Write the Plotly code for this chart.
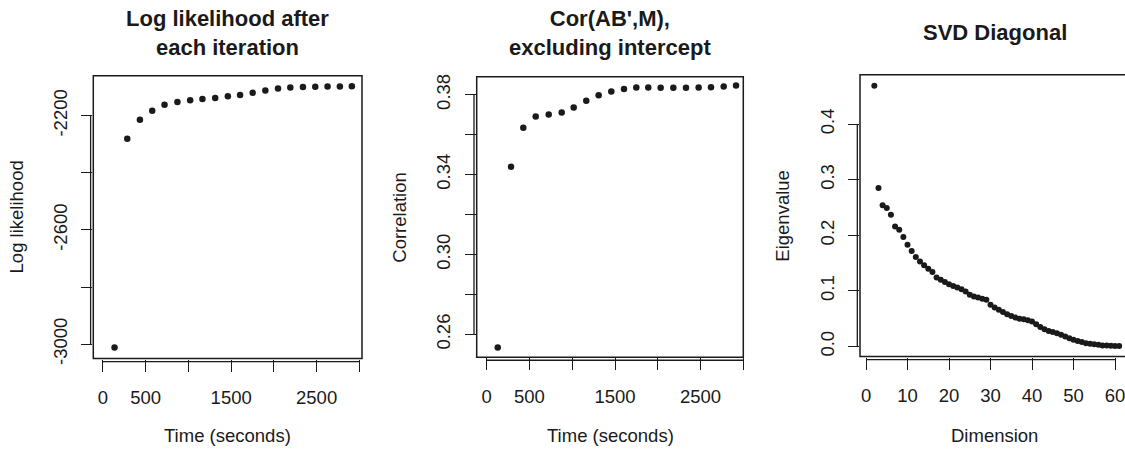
import plotly.graph_objects as go

W, H = 1125, 453

# ---------------- data ----------------
time_ll = [135, 284, 432, 576, 720, 871, 1020, 1164, 1313, 1461, 1604, 1752,
           1900, 2048, 2192, 2340, 2484, 2628, 2772, 2912]
loglik = [-3012, -2281, -2214, -2183, -2162, -2152, -2146, -2142, -2138, -2132,
          -2128, -2120, -2112, -2105, -2101, -2100, -2099, -2098, -2098, -2097]

time_cor = [129, 284, 428, 573, 725, 877, 1017, 1164, 1309, 1457, 1605, 1749,
            1889, 2034, 2182, 2330, 2478, 2622, 2771, 2915]
correlation = [0.2534, 0.3439, 0.3634, 0.3690, 0.3700, 0.3710, 0.3736, 0.3769,
               0.3797, 0.3816, 0.3828, 0.3836, 0.3836, 0.3834, 0.3834, 0.3834,
               0.3836, 0.3837, 0.3841, 0.3846]

dimension = list(range(2, 62))
eigenvalue = [0.469, 0.285, 0.254, 0.249, 0.237, 0.216, 0.210, 0.197, 0.183, 0.172,
              0.161, 0.153, 0.146, 0.140, 0.134, 0.124, 0.120, 0.116, 0.112, 0.109,
              0.106, 0.103, 0.099, 0.093, 0.090, 0.088, 0.086, 0.084, 0.075, 0.070,
              0.066, 0.062, 0.058, 0.055, 0.052, 0.050, 0.049, 0.047, 0.045, 0.040,
              0.035, 0.031, 0.028, 0.026, 0.024, 0.021, 0.018, 0.015, 0.012, 0.010,
              0.008, 0.006, 0.005, 0.004, 0.003, 0.002, 0.002, 0.0015, 0.001, 0.001]

time_ticks = [0, 500, 1000, 1500, 2000, 2500, 3000]
time_ticktext = ["0", "500", "", "1500", "", "2500", ""]
ll_ticks = [-3000, -2800, -2600, -2400, -2200]
ll_ticktext = ["-3000", "", "-2600", "", "-2200"]
cor_ticks = [0.26, 0.28, 0.30, 0.32, 0.34, 0.36, 0.38]
cor_ticktext = ["0.26", "", "0.30", "", "0.34", "", "0.38"]
dim_ticks = [0, 10, 20, 30, 40, 50, 60]
eig_ticks = [0.0, 0.1, 0.2, 0.3, 0.4]
eig_ticktext = ["0.0", "0.1", "0.2", "0.3", "0.4"]

titles = ["Log likelihood after<br>each iteration",
          "Cor(AB',M),<br>excluding intercept",
          "SVD Diagonal"]
xtitles = ["Time (seconds)", "Time (seconds)", "Dimension"]
ytitles = ["Log likelihood", "Correlation", "Eigenvalue"]

# ---------------- layout geometry (pixels) ----------------
FONT = "Liberation Sans, Arial, Helvetica, sans-serif"
INK = "#1a1a1a"
boxes = [  # left, right, top, bottom in px
    (93.3, 362.0, 75.0, 363.0),
    (476.7, 743.3, 76.0, 361.7),
    (860.0, 1129.0, 74.0, 361.0),
]
# axis ranges at the box edges
xranges = [[-113.4, 3031], [-116.9, 3000], [-1.45, 63.37]]
yranges = [[-3050.6, -2060.0], [0.2485, 0.3890], [-0.0182, 0.4889]]


def px(x):
    return x / W


def py(y):
    return 1 - y / H


fig = go.Figure()

series = [(time_ll, loglik), (time_cor, correlation), (dimension, eigenvalue)]
msize = [6.5, 6.5, 6]
for i, (xs, ys) in enumerate(series):
    sfx = "" if i == 0 else str(i + 1)
    fig.add_trace(go.Scatter(
        x=xs, y=ys, mode="markers", xaxis="x" + sfx, yaxis="y" + sfx,
        marker=dict(color=INK, size=msize[i], line=dict(width=0)),
        showlegend=False, hoverinfo="x+y"))

axis_common = dict(showgrid=False, zeroline=False, showline=False,
                   ticks="outside", tickcolor=INK, tickwidth=1.3,
                   ticklabeloverflow="allow",
                   tickfont=dict(family=FONT, size=18.5, color=INK))

xticks = [(time_ticks, time_ticktext), (time_ticks, time_ticktext),
          (dim_ticks, [str(v) for v in dim_ticks])]
yticks = [(ll_ticks, ll_ticktext), (cor_ticks, cor_ticktext), (eig_ticks, eig_ticktext)]

shapes = []
annotations = []
for i in range(3):
    l, r, t, b = boxes[i]
    sfx = "" if i == 0 else str(i + 1)
    xd = [px(l), min(1.0, px(r))]
    yd = [py(b), py(t)]
    xr = list(xranges[i])
    if r > W:
        # the reference cuts this panel at the right edge of the picture
        xr[1] = xr[0] + (xr[1] - xr[0]) * (W - l) / (r - l)
    fig.layout["xaxis" + sfx] = dict(
        domain=xd, range=xr, anchor="y" + sfx,
        tickvals=xticks[i][0], ticktext=xticks[i][1],
        ticklen=12, ticklabelstandoff=10, **axis_common)
    fig.layout["yaxis" + sfx] = dict(
        domain=yd, range=yranges[i], anchor="x" + sfx,
        tickvals=yticks[i][0], ticktext=yticks[i][1], tickangle=-90,
        ticklen=11, ticklabelstandoff=7, **axis_common)
    # plot box
    shapes.append(dict(type="rect", xref="paper", yref="paper",
                       x0=px(l), x1=px(r), y0=py(b), y1=py(t),
                       line=dict(color=INK, width=1.5), layer="above"))
    # R-style axis lines spanning first to last tick
    tx = xticks[i][0]
    shapes.append(dict(type="line", xref="x" + sfx, yref="paper",
                       x0=tx[0], x1=tx[-1], y0=py(b + 3), y1=py(b + 3),
                       line=dict(color=INK, width=1.3)))
    ty = yticks[i][0]
    shapes.append(dict(type="line", xref="paper", yref="y" + sfx,
                       x0=px(l - 2.7), x1=px(l - 2.7), y0=ty[0], y1=ty[-1],
                       line=dict(color=INK, width=1.3)))
    # title
    annotations.append(dict(text="<b>" + titles[i] + "</b>", xref="paper", yref="paper",
                            x=px((l + r) / 2), y=py(32 if i < 2 else 31),
                            xanchor="center", yanchor="middle", showarrow=False,
                            font=dict(family=FONT, size=22, color=INK)))
    # x title
    annotations.append(dict(text=xtitles[i], xref="paper", yref="paper",
                            x=px((l + r) / 2), y=py(441),
                            xanchor="center", yanchor="middle", showarrow=False,
                            font=dict(family=FONT, size=18.5, color=INK)))
    # y title
    annotations.append(dict(text=ytitles[i], xref="paper", yref="paper",
                            x=px(l - 77), y=py((t + b) / 2),
                            xanchor="center", yanchor="middle", showarrow=False,
                            textangle=-90,
                            font=dict(family=FONT, size=18.5, color=INK)))

fig.update_layout(width=W, height=H, margin=dict(l=0, r=0, t=0, b=0),
                  paper_bgcolor="white", plot_bgcolor="white",
                  shapes=shapes, annotations=annotations, showlegend=False,
                  font=dict(family=FONT, color=INK))

fig.write_html("out.html",
               config={"displayModeBar": False},
               post_script="document.body.style.margin='0px';"
                           "document.body.style.overflow='hidden';")
